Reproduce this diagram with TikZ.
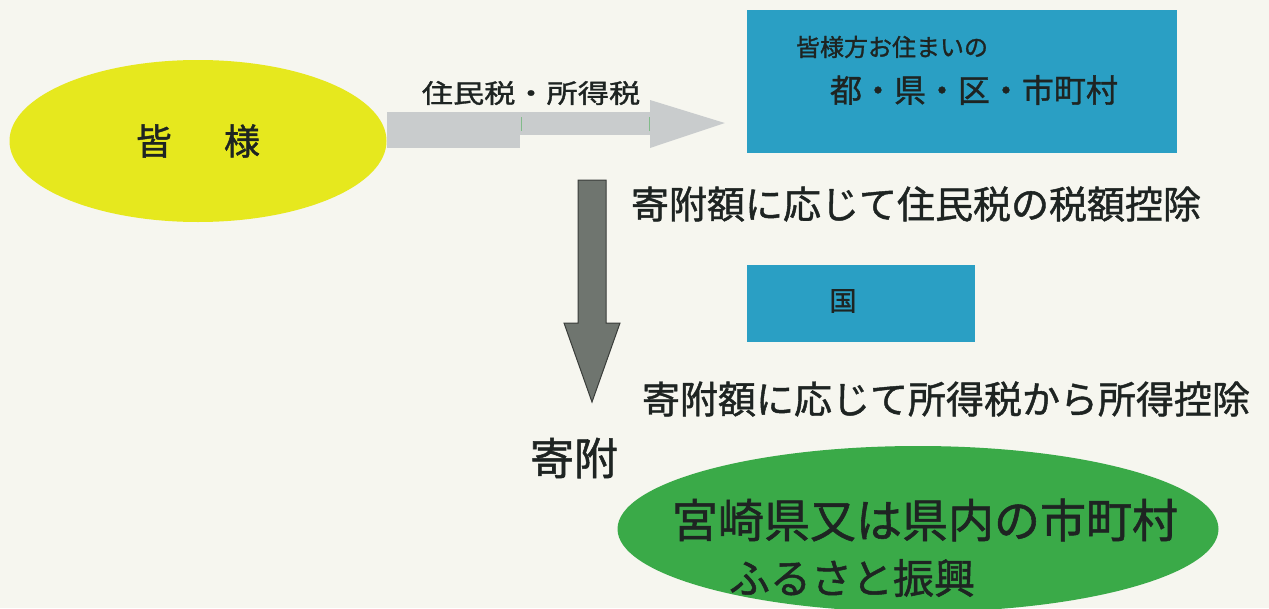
\documentclass[tikz,border=0pt]{standalone}
\usepackage{fontspec}
\setmainfont{Noto Sans CJK JP}[FakeBold=1.2]
\usetikzlibrary{calc,shapes.geometric}
\definecolor{paper}{HTML}{F6F6EF}
\definecolor{minayellow}{HTML}{E6E81E}
\definecolor{cityblue}{HTML}{2A9FC4}
\definecolor{furugreen}{HTML}{3AAA48}
\definecolor{taxgray}{HTML}{C9CCCD}
\definecolor{kifugray}{HTML}{6F756F}
\definecolor{kifuedge}{HTML}{3A3D3A}
\definecolor{inktext}{HTML}{1E2422}
\tikzset{
	jtext/.style={inner sep=0pt, text=inktext, font=\fontsize{#1}{#1}\selectfont},
	citybox/.style={fill=cityblue, inner sep=0pt}
}

\begin{document}
\begin{tikzpicture}[x=1pt,y=-1pt]
			\useasboundingbox (0,0) rectangle (1269,608);
			\fill[paper] (0,0) rectangle (1269,608);

			\node[ellipse, fill=minayellow, minimum width=377pt, minimum height=162pt, jtext=36] (minasama) at (198,141) {皆\hspace{52pt}様};
			\node[citybox, minimum width=430pt, minimum height=143pt] (shichoson) at (962,81) {};
			\node[citybox, minimum width=228pt, minimum height=77pt] (kuni) at (861,303) {};
			\node[ellipse, fill=furugreen, minimum width=601pt, minimum height=166pt] (furusato) at (918,529) {};

			\node[jtext=24] (sumai) at (892,47) {皆様方お住まいの};
			\node[jtext=32] (token) at (974,90) {都・県・区・市町村};
			\node[jtext=27] (kunilabel) at (843,301) {国};
			\node[jtext=38] (juminkojo) at (916,204) {寄附額に応じて住民税の税額控除};
			\node[jtext=38] (shotokukojo) at (946,399) {寄附額に応じて所得税から所得控除};
			\node[jtext=44] (kifu) at (574,458) {寄附};
			\node[jtext=46] (miyazaki) at (925,520) {宮崎県又は県内の市町村};
			\node[jtext=41] (shinko) at (852,578) {ふるさと振興};
			\node[jtext=26] (zeikin) at (531,93) {\scalebox{1.2}[1]{住民税・所得税}};

			\coordinate (taxstart) at (minasama.east |- 0,112);
			\coordinate (taxtip) at ([xshift=-22pt]shichoson.west |- 0,123);
			\fill[taxgray] (taxstart) rectangle (520,148);
			\fill[taxgray] (520,112) rectangle (650,135);
			\fill[taxgray] (650,100) -- (taxtip) -- (650,148) -- cycle;
			\foreach \x in {521,649}{
				\draw[furugreen!50!taxgray, line width=0.6pt] (\x,117) -- (\x,131);
			}

			\filldraw[fill=kifugray, draw=kifuedge, line width=1pt, line join=miter] (578,180) -- (606,180) -- (606,323) -- (620,323) -- (592,402) -- (564,323) -- (578,323) -- cycle;
		\end{tikzpicture}
\end{document}
